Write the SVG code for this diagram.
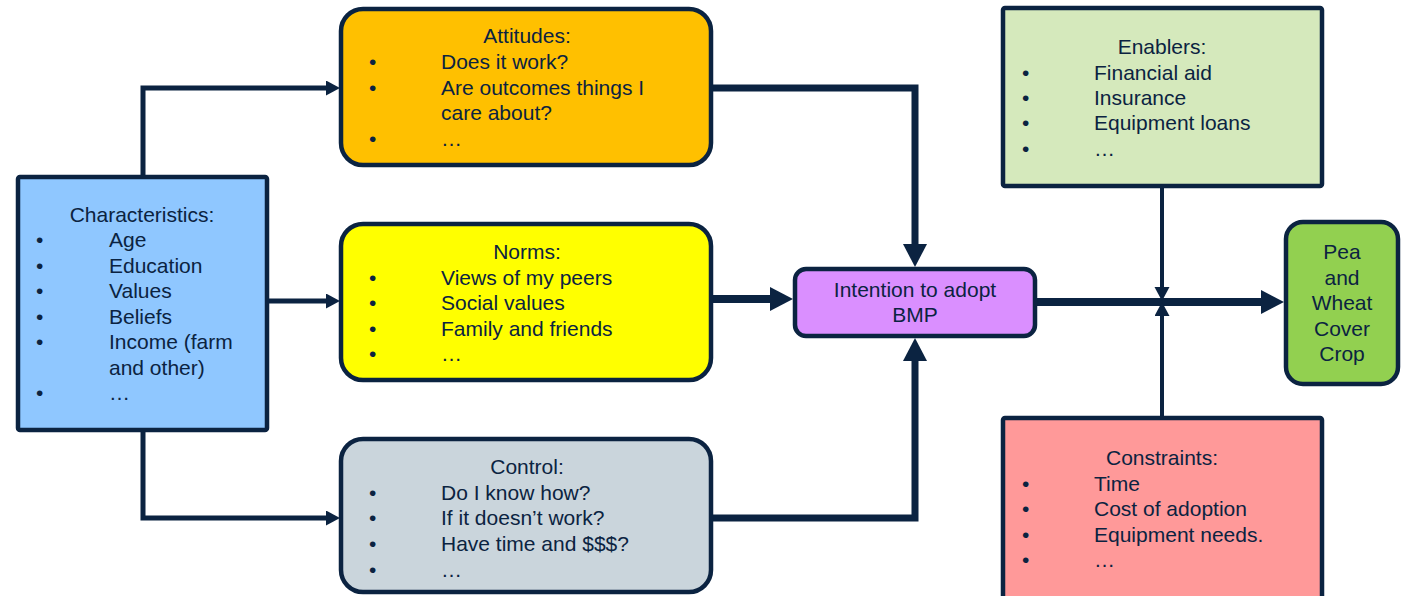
<svg xmlns="http://www.w3.org/2000/svg" width="1401" height="596" viewBox="0 0 1401 596">
<style>
.box{stroke:#0b2341;stroke-width:4.5}
.t{font-family:"Liberation Sans",Arial,sans-serif;font-size:21px;fill:#0b2341}
.c{text-anchor:middle}
.ln{fill:none;stroke:#0b2341;stroke-linejoin:miter}
</style>
<defs>
<marker id="big" markerUnits="userSpaceOnUse" markerWidth="24" markerHeight="26" refX="0" refY="12" orient="auto"><path d="M0,0 L23,12 L0,24 Z" fill="#0b2341"/></marker>
<marker id="small" markerUnits="userSpaceOnUse" markerWidth="15" markerHeight="16" refX="0" refY="7.5" orient="auto"><path d="M0,0 L14,7.5 L0,15 Z" fill="#0b2341"/></marker>
</defs>
<g id="connectors">
<path class="ln" d="M143,177 V88 H326" stroke-width="5" marker-end="url(#small)"/>
<path class="ln" d="M267,301 H326" stroke-width="5" marker-end="url(#small)"/>
<path class="ln" d="M143,430 V518 H326" stroke-width="5" marker-end="url(#small)"/>
<path class="ln" d="M713,88 H915 V244" stroke-width="7" marker-end="url(#big)"/>
<path class="ln" d="M713,299 H770" stroke-width="8" marker-end="url(#big)"/>
<path class="ln" d="M713,518 H915 V361" stroke-width="7" marker-end="url(#big)"/>
<path class="ln" d="M1037,302 H1261" stroke-width="8" marker-end="url(#big)"/>
<path class="ln" d="M1162,187 V287" stroke-width="4" marker-end="url(#small)"/>
<path class="ln" d="M1162,416 V316" stroke-width="4" marker-end="url(#small)"/>
</g>
<g id="characteristics">
<rect class="box" x="18" y="177" width="249" height="253" rx="2" fill="#8fc7ff"/>
<text class="t c" x="142" y="222">Characteristics:</text>
<text class="t" x="36" y="247">•</text><text class="t" x="109" y="247">Age</text>
<text class="t" x="36" y="273">•</text><text class="t" x="109" y="273">Education</text>
<text class="t" x="36" y="298">•</text><text class="t" x="109" y="298">Values</text>
<text class="t" x="36" y="324">•</text><text class="t" x="109" y="324">Beliefs</text>
<text class="t" x="36" y="349">•</text><text class="t" x="109" y="349">Income (farm</text>
<text class="t" x="109" y="375">and other)</text>
<text class="t" x="36" y="400">•</text><text class="t" x="109" y="400">…</text>
</g>
<g id="attitudes">
<rect class="box" x="341" y="9" width="370" height="156" rx="22" fill="#ffc000"/>
<text class="t c" x="527" y="43">Attitudes:</text>
<text class="t" x="369" y="69">•</text><text class="t" x="441" y="69">Does it work?</text>
<text class="t" x="369" y="95">•</text><text class="t" x="441" y="95">Are outcomes things I</text>
<text class="t" x="441" y="120">care about?</text>
<text class="t" x="369" y="146">•</text><text class="t" x="441" y="146">…</text>
</g>
<g id="norms">
<rect class="box" x="341" y="224" width="370" height="156" rx="22" fill="#ffff00"/>
<text class="t c" x="527" y="259">Norms:</text>
<text class="t" x="369" y="285">•</text><text class="t" x="441" y="285">Views of my peers</text>
<text class="t" x="369" y="310">•</text><text class="t" x="441" y="310">Social values</text>
<text class="t" x="369" y="336">•</text><text class="t" x="441" y="336">Family and friends</text>
<text class="t" x="369" y="361">•</text><text class="t" x="441" y="361">…</text>
</g>
<g id="control">
<rect class="box" x="341" y="439" width="370" height="153" rx="22" fill="#cad5dc"/>
<text class="t c" x="527" y="474">Control:</text>
<text class="t" x="369" y="500">•</text><text class="t" x="441" y="500">Do I know how?</text>
<text class="t" x="369" y="525">•</text><text class="t" x="441" y="525">If it doesn’t work?</text>
<text class="t" x="369" y="551">•</text><text class="t" x="441" y="551">Have time and $$$?</text>
<text class="t" x="369" y="577">•</text><text class="t" x="441" y="577">…</text>
</g>
<g id="intention">
<rect class="box" x="795" y="269" width="240" height="67" rx="11" fill="#da8fff"/>
<text class="t c" x="915" y="297">Intention to adopt</text>
<text class="t c" x="915" y="322">BMP</text>
</g>
<g id="enablers">
<rect class="box" x="1003" y="8" width="319" height="178" rx="2" fill="#d5e9bc"/>
<text class="t c" x="1162" y="54">Enablers:</text>
<text class="t" x="1022" y="80">•</text><text class="t" x="1094" y="80">Financial aid</text>
<text class="t" x="1022" y="105">•</text><text class="t" x="1094" y="105">Insurance</text>
<text class="t" x="1022" y="130">•</text><text class="t" x="1094" y="130">Equipment loans</text>
<text class="t" x="1022" y="156">•</text><text class="t" x="1094" y="156">…</text>
</g>
<g id="constraints">
<rect class="box" x="1003" y="418" width="319" height="190" rx="2" fill="#ff9999"/>
<text class="t c" x="1162" y="465">Constraints:</text>
<text class="t" x="1022" y="491">•</text><text class="t" x="1094" y="491">Time</text>
<text class="t" x="1022" y="516">•</text><text class="t" x="1094" y="516">Cost of adoption</text>
<text class="t" x="1022" y="542">•</text><text class="t" x="1094" y="542">Equipment needs.</text>
<text class="t" x="1022" y="567">•</text><text class="t" x="1094" y="567">…</text>
</g>
<g id="pea">
<rect class="box" x="1286" y="222" width="112" height="162" rx="17" fill="#92d050"/>
<text class="t c" x="1342" y="259">Pea</text>
<text class="t c" x="1342" y="285">and</text>
<text class="t c" x="1342" y="310">Wheat</text>
<text class="t c" x="1342" y="336">Cover</text>
<text class="t c" x="1342" y="361">Crop</text>
</g>
</svg>
